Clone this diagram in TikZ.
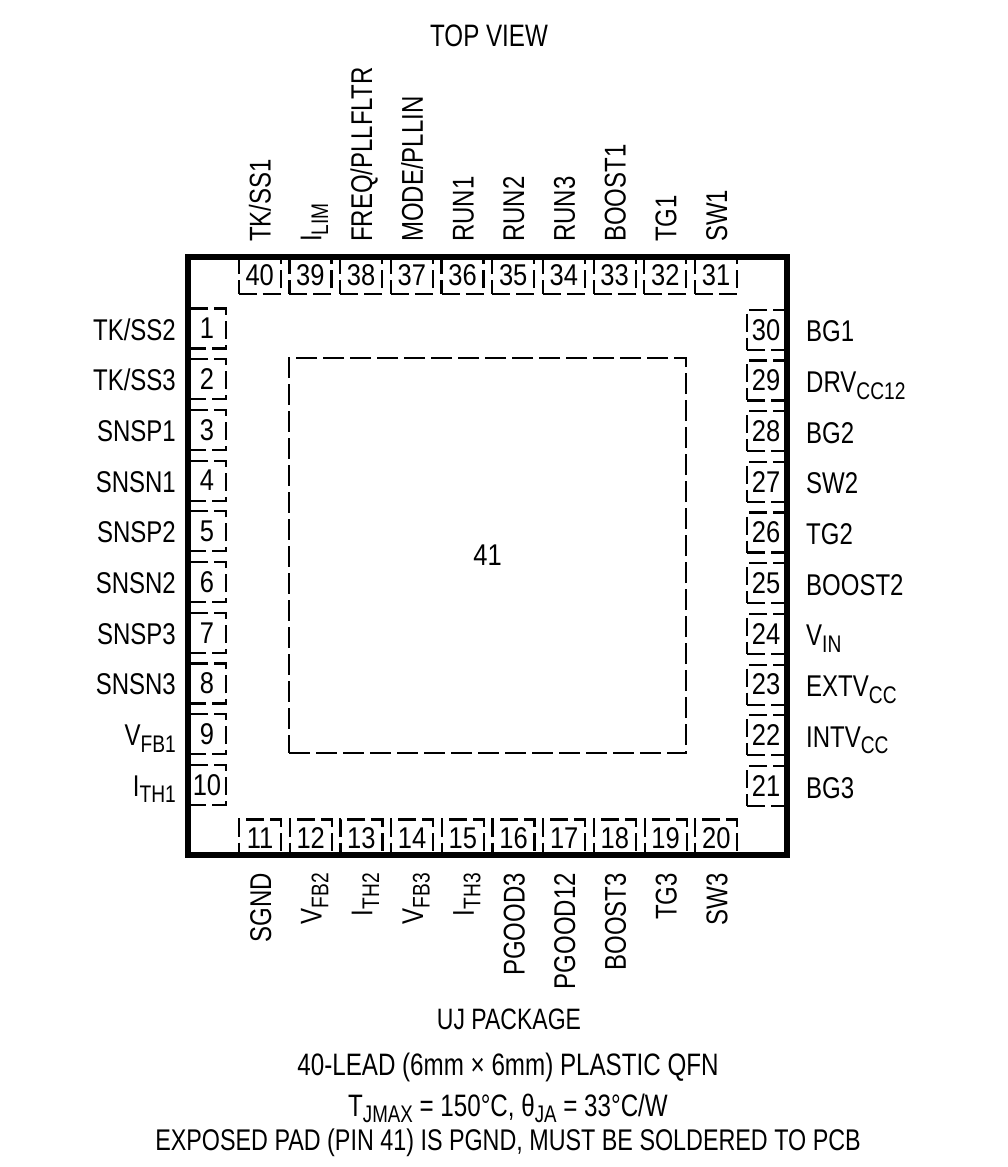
\documentclass[tikz,border=0pt]{standalone}
\usepackage{fontspec}
\setmainfont[FakeStretch=0.8]{Liberation Sans}
\newfontfamily\narrowfont[FakeStretch=0.78]{Liberation Sans}
\newfontfamily\digitfont[FakeStretch=0.85]{Liberation Sans}
\newcommand{\subs}[1]{\raisebox{-.22em}{\fontsize{24}{24}\selectfont #1}}
\tikzset{
	pinbox/.style={draw, line width=2.2pt, dash pattern=on 18pt off 6pt, inner sep=0pt, font=\digitfont\fontsize{30}{30}\selectfont},
	sidepin/.style={pinbox, minimum width=38pt, minimum height=40pt},
	toppin/.style={pinbox, minimum width=42pt, minimum height=37pt},
	pinname/.style={inner sep=0pt, font=\fontsize{30}{30}\selectfont},
	caption/.style={inner sep=0pt, anchor=base, font=\narrowfont\fontsize{31}{31}\selectfont}
}
\begin{document}
\begin{tikzpicture}[x=1pt, y=-1pt]
	\useasboundingbox (0,0) rectangle (1007,1167);
	\foreach \n/\lab in {1/TK\slash SS2,2/TK\slash SS3,3/SNSP1,4/SNSN1,5/SNSP2,6/SNSN2,7/SNSP3,8/SNSN3,9/V\subs{FB1},10/I\subs{TH1}}{
		\node[sidepin] (pin\n) at (207, {328.5+(\n-1)*50.7}) {\n};
		\node[pinname, anchor=base east] (name\n) at (176, {340+(\n-1)*50.7}) {\lab};
	}
	\foreach \n/\lab in {21/BG3,22/INTV\subs{CC},23/EXTV\subs{CC},24/V\subs{IN},25/BOOST2,26/TG2,27/SW2,28/BG2,29/DRV\subs{CC12},30/BG1}{
		\node[sidepin] (pin\n) at (766, {786-(\n-21)*50.7}) {\n};
		\node[pinname, anchor=base west] (name\n) at (806, {798-(\n-21)*50.7}) {\lab};
	}
	\foreach \n/\lab in {11/SGND,12/V\subs{FB2},13/I\subs{TH2},14/V\subs{FB3},15/I\subs{TH3},16/PGOOD3,17/PGOOD12,18/BOOST3,19/TG3,20/SW3}{
		\node[toppin] (pin\n) at ({260+(\n-11)*50.7}, 838) {\n};
		\node[pinname, anchor=base east, rotate=90] (name\n) at ({271+(\n-11)*50.7}, 873) {\lab};
	}
	\foreach \n/\lab in {31/SW1,32/TG1,33/BOOST1,34/RUN3,35/RUN2,36/RUN1,37/MODE\slash PLLIN,38/FREQ\slash PLLFLTR,39/I\subs{LIM},40/TK\slash SS1}{
		\node[toppin] (pin\n) at ({716-(\n-31)*50.7}, 275.5) {\n};
		\node[pinname, anchor=base west, rotate=90] (name\n) at ({727-(\n-31)*50.7}, 242) {\lab};
	}
	\node[draw, line width=2.2pt, dash pattern=on 21pt off 6pt, minimum width=397pt, minimum height=395pt, font=\digitfont\fontsize{30}{30}\selectfont] (pad) at (487.5, 555.5) {41};
	\node[draw, line width=6pt, minimum width=599pt, minimum height=598pt, inner sep=0pt] (package) at (487.5, 556) {};
	\node[caption] (view) at (489, 46) {TOP VIEW};
	\node[caption, font=\narrowfont\fontsize{29.5}{29.5}\selectfont] (cap1) at (509, 1029) {UJ PACKAGE};
	\node[caption] (cap2) at (508, 1075) {40-LEAD (6mm × 6mm) PLASTIC QFN};
	\node[caption] (cap3) at (508, 1116) {T\subs{JMAX} = 150°C, θ\subs{JA} = 33°C/W};
	\node[caption, font=\narrowfont\fontsize{29.9}{29.9}\selectfont] (cap4) at (508, 1150) {EXPOSED PAD (PIN 41) IS PGND, MUST BE SOLDERED TO PCB};
\end{tikzpicture}
\end{document}
